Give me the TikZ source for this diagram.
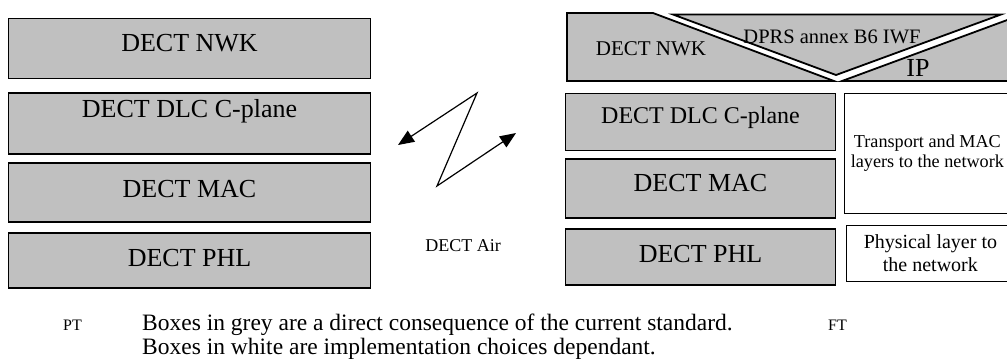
\documentclass[tikz,border=0pt]{standalone}
\usepackage{fontspec}
\setmainfont{Liberation Serif}
\usetikzlibrary{arrows.meta, positioning}
\usepackage{xcolor}
\definecolor{layergrey}{RGB}{192,192,192}
\newcommand{\pxfont}[2]{\fontsize{#1pt}{#2pt}\selectfont}

\begin{document}
\begin{tikzpicture}[
    x=1pt, y=-1pt,
    layer/.style={draw, fill=layergrey, line width=1.8pt, inner sep=0pt, anchor=north, font=\pxfont{26}{30}},
    leftlayer/.style={layer, minimum width=362pt},
    rightlayer/.style={layer, minimum width=270pt},
    netbox/.style={draw, fill=white, line width=1.8pt, inner sep=0pt, anchor=north west, align=center},
    stackpart/.style={draw, fill=layergrey, line width=1.8pt, line join=miter},
    tag/.style={inner sep=0pt, anchor=base},
    air/.style={{Triangle[length=16pt, width=13pt]}-{Triangle[length=16pt, width=13pt]}, line width=1.2pt}
]
\useasboundingbox (0,0) rectangle (1007,360);

\node[leftlayer, text height=33.5pt, text depth=26.5pt] (pnwk) at (189.5,17.5) {DECT NWK};
\node[leftlayer, text height=24.5pt, text depth=36.5pt, below=13pt of pnwk] (pdlc) {DECT DLC C-plane};
\node[leftlayer, text height=34.5pt, text depth=24.5pt, below=7pt of pdlc] (pmac) {DECT MAC};
\node[leftlayer, text height=33.5pt, text depth=21.5pt, below=9pt of pmac] (pphl) {DECT PHL};

\draw[stackpart] (567,13) -- (653,13) -- (834,81) -- (567,81) -- cycle;
\draw[stackpart] (673,14.5) -- (1001,14.5) -- (836,75) -- cycle;
\draw[stackpart] (842,81) -- (1014,17.5) -- (1014,81) -- cycle;
\node[tag, font=\pxfont{21}{25}] (fnwk) at (651,55) {DECT NWK};
\node[tag, font=\pxfont{20.5}{25}] (iwf) at (832,43) {DPRS annex B6 IWF};
\node[tag, font=\pxfont{26}{30}] (ip) at (918,76) {IP};

\node[rightlayer, font=\pxfont{24}{28}, text height=30pt, text depth=27pt] (fdlc) at (700.5,92.5) {DECT DLC C-plane};
\node[rightlayer, text height=32.5pt, text depth=26.5pt, below=7pt of fdlc] (fmac) {DECT MAC};
\node[rightlayer, text height=33.5pt, text depth=22.5pt, below=9pt of fmac] (fphl) {DECT PHL};

\node[netbox, font=\pxfont{18.2}{20}, minimum width=166pt, minimum height=120pt] (transport) at (843.5,92.5) {Transport and MAC\\layers to the network};
\node[netbox, font=\pxfont{20}{23}, minimum width=168pt, minimum height=56pt] (physical) at (845.5,224.5) {Physical layer to\\the network};

\coordinate (airl) at (398,145);
\coordinate (airtop) at (477,93);
\coordinate (airbot) at (437,186);
\coordinate (airr) at (516,133);
\draw[air] (airl) -- (airtop) -- (airbot) -- (airr);
\node[tag, font=\pxfont{18}{22}] (airtxt) at (463,251) {DECT Air};

\node[tag, anchor=base west, font=\pxfont{16}{20}] (pt) at (63,330) {PT};
\node[tag, anchor=base west, font=\pxfont{23.5}{30}] (grey) at (142,330) {Boxes in grey are a direct consequence of the current standard.};
\node[tag, anchor=base west, font=\pxfont{23.5}{30}] (white) at (142,354) {Boxes in white are implementation choices dependant.};
\node[tag, anchor=base west, font=\pxfont{16}{20}] (ft) at (828,330) {FT};

\end{tikzpicture}
\end{document}
